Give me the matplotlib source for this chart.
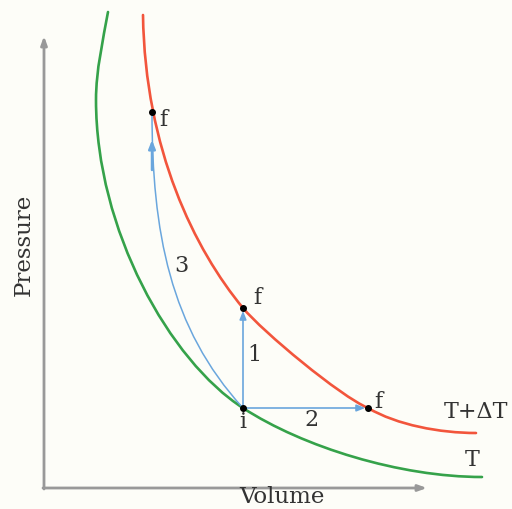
import matplotlib.pyplot as plt
from matplotlib.path import Path
from matplotlib.patches import PathPatch

# curves are given as cubic Bezier nodes: anchor, handle, handle, anchor, ...
# isotherm T (green) -- volume, pressure (arbitrary units)
vol_T = [64, 59, 52, 52, 52, 126, 199, 259, 356, 438]
pres_T = [476, 448, 418, 388, 258, 127, 80, 41, 11, 11]

# isotherm T+dT (red)
vol_TdT = [99, 101, 151, 199, 219, 296, 324, 353, 396, 432]
pres_TdT = [473, 338, 238, 180, 156, 92, 80, 63, 55, 55]

# path 3 (blue curve) from i up to f
vol_p3 = [199, 126, 108, 108]
pres_p3 = [80, 160, 256, 376]
arrow3_tail = (108, 318)
arrow3_tip = (108, 348)

# states
pt_i = (199, 80)
pt_f = [(199, 180), (324, 80), (108, 376)]


def bezier(vols, pres, color, lw):
    codes = [Path.MOVETO] + [Path.CURVE4] * (len(vols) - 1)
    patch = PathPatch(Path(list(zip(vols, pres)), codes), fill=False, edgecolor=color,
                      lw=lw, capstyle='round')
    ax.add_patch(patch)


fig = plt.figure(figsize=(5.12, 5.09), dpi=100, facecolor='#fdfdf8')
ax = fig.add_axes([0, 0, 1, 1])
ax.set_facecolor('#fdfdf8')
ax.set_xlim(-44, 468)
ax.set_ylim(-21, 488)
ax.axis('off')

serif = 'DejaVu Serif'
tc = '#333333'

# axes with arrows
axis_kw = dict(arrowstyle='-|>,head_length=0.5,head_width=0.18', color='#999999', lw=2,
               shrinkA=0, shrinkB=0)
ax.annotate('', xy=(383, 0), xytext=(-1, 0), arrowprops=axis_kw)
ax.annotate('', xy=(0, 452), xytext=(0, -1), arrowprops=axis_kw)
ax.text(238, -9, 'Volume', family=serif, fontsize=16.5, color=tc, ha='center', va='center')
ax.text(-20, 243, 'Pressure', family=serif, fontsize=16.5, color=tc, rotation=90,
        ha='center', va='center')

# isotherms
bezier(vol_T, pres_T, '#35a24a', 1.9)
bezier(vol_TdT, pres_TdT, '#f2553c', 1.9)
ax.text(428, 28, 'T', family=serif, fontsize=16, color=tc, ha='center', va='center')
ax.text(400, 76, 'T+ΔT', family=serif, fontsize=16, color=tc, ha='left', va='center')

# paths
blue = '#6aa6dd'
path_kw = dict(arrowstyle='-|>,head_length=0.5,head_width=0.2', color=blue, lw=1.2,
               shrinkA=0, shrinkB=2)
ax.annotate('', xy=pt_f[0], xytext=pt_i, arrowprops=path_kw)
ax.annotate('', xy=pt_f[1], xytext=pt_i, arrowprops=path_kw)
bezier(vol_p3, pres_p3, blue, 1.1)
ax.annotate('', xy=arrow3_tip, xytext=arrow3_tail,
            arrowprops=dict(arrowstyle='-|>,head_length=0.5,head_width=0.2', color=blue,
                            lw=1.8, shrinkA=0, shrinkB=0))

ax.text(210, 133, '1', family=serif, fontsize=16, color=tc, ha='center', va='center')
ax.text(267, 68, '2', family=serif, fontsize=16, color=tc, ha='center', va='center')
ax.text(137, 222, '3', family=serif, fontsize=16, color=tc, ha='center', va='center')

# state points
ax.plot([pt_i[0]] + [p[0] for p in pt_f], [pt_i[1]] + [p[1] for p in pt_f],
        'o', color='black', ms=4, zorder=5)
ax.text(199, 66, 'i', family=serif, fontsize=16, color=tc, ha='center', va='center')
for x, y in [(213, 190), (334, 86), (119, 368)]:
    ax.text(x, y, 'f', family=serif, fontsize=16, color=tc, ha='center', va='center')

fig.savefig('out.png', dpi=100, facecolor=fig.get_facecolor())
